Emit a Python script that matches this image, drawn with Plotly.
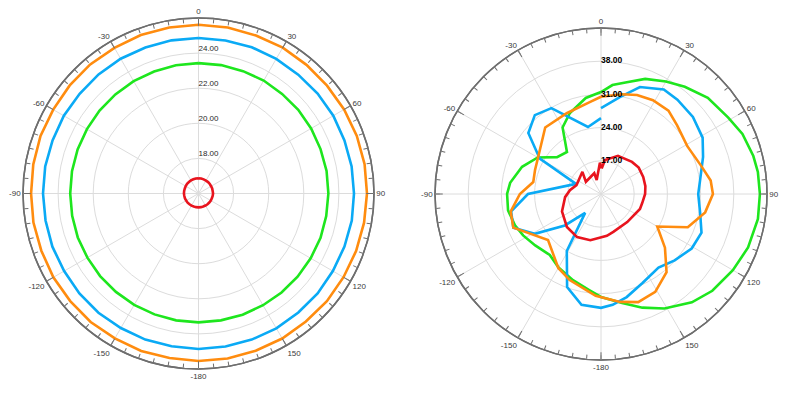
import plotly.graph_objects as go

# ---------------- data ----------------
# Left chart (radial range 16..26), sampled every 10 degrees
left_theta = [0, 10, 20, 30, 40, 50, 60, 70, 80, 90, 100, 110, 120, 130, 140, 150, 160, 170, 180,
              190, 200, 210, 220, 230, 240, 250, 260, 270, 280, 290, 300, 310, 320, 330, 340, 350, 360]
left_orange = [25.62, 25.60, 25.58, 25.60, 25.57, 25.56, 25.58, 25.60, 25.61, 25.60, 25.58, 25.56, 25.54,
               25.55, 25.52, 25.54, 25.53, 25.55, 25.54, 25.52, 25.55, 25.53, 25.56, 25.54, 25.55, 25.53,
               25.55, 25.54, 25.56, 25.58, 25.56, 25.58, 25.60, 25.58, 25.61, 25.60, 25.62]
left_blue = [24.86, 24.85, 24.87, 24.86, 24.84, 24.86, 24.87, 24.85, 24.86, 24.86, 24.87, 24.85, 24.84,
             24.86, 24.85, 24.87, 24.86, 24.85, 24.86, 24.84, 24.86, 24.85, 24.87, 24.86, 24.84, 24.86,
             24.85, 24.86, 24.87, 24.85, 24.86, 24.84, 24.86, 24.87, 24.85, 24.86, 24.86]
left_green = [23.43, 23.43, 23.42, 23.43, 23.41, 23.42, 23.41, 23.40, 23.41, 23.40, 23.39, 23.40, 23.38,
              23.37, 23.36, 23.35, 23.35, 23.34, 23.34, 23.34, 23.33, 23.33, 23.32, 23.32, 23.31, 23.32,
              23.31, 23.31, 23.32, 23.33, 23.34, 23.36, 23.37, 23.39, 23.40, 23.42, 23.43]
left_red = [16.87, 16.87, 16.86, 16.85, 16.85, 16.84, 16.83, 16.83, 16.82, 16.83, 16.82, 16.81, 16.81,
            16.80, 16.80, 16.79, 16.79, 16.79, 16.79, 16.79, 16.79, 16.80, 16.80, 16.81, 16.81, 16.82,
            16.82, 16.83, 16.83, 16.83, 16.84, 16.85, 16.85, 16.86, 16.86, 16.87, 16.87]
left_ring_vals = [18, 20, 22, 24]
left_ring_text = ["18.00", "20.00", "22.00", "24.00"]

# Right chart (radial range 10..45)
green_theta = [0, 6, 13, 21, 30, 38, 48, 59, 67, 76, 82, 90, 99, 110, 120, 131, 140, 151, 160, 169, 180,
               187, 198, 210, 220, 232, 242, 250, 260, 270, 277, 289, 300, 310, 321, 330, 339, 351, 360]
green_r = [31.5, 33.1, 34.2, 36.0, 37.4, 38.7, 40.3, 41.3, 42.4, 43.1, 43.4, 43.5, 43.5, 43.0, 42.1, 41.1,
           39.8, 37.6, 35.5, 33.4, 31.7, 30.4, 29.1, 27.9, 26.8, 27.6, 28.6, 29.3, 29.9, 29.8, 29.3, 27.6,
           25.4, 22.1, 21.4, 26.2, 28.3, 30.5, 31.5]

blue_theta = [0, 11, 20, 31, 39, 50, 61, 70, 82, 90, 101, 111, 121, 132, 142, 155, 166, 174, 180, 190,
              200, 211, 220, 229, 239, 249, 259, 270, 292, 300, 310, 320, 330, 349, 360]
blue_r = [28.1, 30.8, 34.0, 35.7, 35.6, 35.3, 34.5, 32.9, 31.1, 30.5, 31.3, 32.7, 32.3, 30.9, 29.7, 30.7,
          32.4, 33.5, 34.0, 33.7, 30.9, 24.0, 15.2, 20.1, 26.3, 29.8, 29.3, 25.4, 15.7, 24.9, 30.0, 31.7,
          30.9, 24.4, 26.0]

orange_theta = [0, 12, 20, 29, 39, 48, 61, 74, 83, 90, 100, 111, 120, 130, 140, 151, 161, 170, 183, 200,
                210, 229, 249, 259, 270, 280, 290, 302, 320, 337, 353, 360]
orange_r = [30.5, 31.5, 32.2, 32.6, 32.6, 31.6, 30.8, 31.9, 33.3, 33.6, 32.3, 29.6, 23.7, 27.6, 31.5, 33.6,
            34.1, 33.1, 31.5, 29.3, 28.0, 24.8, 29.8, 29.4, 27.1, 24.5, 24.8, 25.5, 28.3, 28.5, 29.5, 30.5]

red_theta = [1.5, 6.7, 24, 44, 55, 68, 80, 90, 102, 111, 137, 162, 172, 193, 209, 226, 246, 265, 277, 290,
             320, 309, 342, 343, 358, 361.5]
red_r = [15.4, 17.2, 18.8, 19.4, 19.7, 19.6, 19.5, 19.3, 18.9, 18.8, 18.1, 18.4, 18.9, 20.0, 20.4, 20.0,
         19.0, 17.6, 16.6, 15.5, 16.1, 14.1, 14.6, 13.1, 16.6, 15.4]

right_ring_vals = [17, 24, 31, 38]
right_ring_text = ["17.00", "24.00", "31.00", "38.00"]

ang_ticks = [0, 30, 60, 90, 120, 150, 180, 210, 240, 270, 300, 330]
ang_labels = ["0", "30", "60", "90", "120", "150", "-180", "-150", "-120", "-90", "-60", "-30"]

# ---------------- style ----------------
C_ORANGE = "#FF8C0F"
C_BLUE = "#0AAAF5"
C_GREEN = "#1EE61E"
C_RED = "#E8141E"
LW = 2.6
FONT = "Liberation Sans, Arial, sans-serif"
GRID = "#DCDCDC"
AXIS = "#6E6E6E"

W, H = 791, 394
OFF = 8  # page body margin offset
# left circle: page center (198.5,193.5) r 175.5 ; right circle: page center (601,194) r 166
def dom(cx, cy, r):
    cx -= OFF
    cy -= OFF
    return dict(x=[(cx - r) / W, (cx + r) / W], y=[(H - cy - r) / H, (H - cy + r) / H])

left_dom = dom(198.5, 193.5, 175.5)
right_dom = dom(601, 194, 166)

fig = go.Figure()

def dummy(sp, rmin):
    fig.add_trace(go.Scatterpolar(r=[rmin], theta=[0], mode="markers", marker=dict(opacity=0),
                                  hoverinfo="skip", subplot=sp))

def line(sp, th, rr, col):
    fig.add_trace(go.Scatterpolar(r=rr, theta=th, mode="lines", line=dict(color=col, width=LW),
                                  subplot=sp, hoverinfo="skip"))

# left
dummy("polar", 16)
line("polar2", left_theta, left_green, C_GREEN)
line("polar2", left_theta, left_blue, C_BLUE)
line("polar2", left_theta, left_orange, C_ORANGE)
line("polar2", left_theta, left_red, C_RED)
fig.add_trace(go.Scatterpolar(r=left_ring_vals, theta=[0] * len(left_ring_vals), mode="text",
                              text=left_ring_text, textposition="top right",
                              textfont=dict(size=8, color="#2A2A2A", family=FONT),
                              subplot="polar2", hoverinfo="skip"))
# right
dummy("polar3", 10)
line("polar4", green_theta, green_r, C_GREEN)
line("polar4", blue_theta, blue_r, C_BLUE)
line("polar4", orange_theta, orange_r, C_ORANGE)
line("polar4", red_theta, red_r, C_RED)
fig.add_trace(go.Scatterpolar(r=right_ring_vals, theta=[0] * len(right_ring_vals), mode="text",
                              text=right_ring_text, textposition="middle right",
                              textfont=dict(size=8.5, color="#000000", family=FONT, weight="bold"),
                              subplot="polar4", hoverinfo="skip"))

minor_vals = list(range(0, 360, 5))

def minor_polar(d, rng):
    return dict(domain=d, bgcolor="white",
                radialaxis=dict(range=rng, showgrid=False, showline=False, showticklabels=False, ticks=""),
                angularaxis=dict(rotation=90, direction="clockwise", tickmode="array", tickvals=minor_vals,
                                 showticklabels=False, showgrid=False, showline=True, linecolor=AXIS,
                                 linewidth=1.5, ticks="inside", ticklen=4, tickcolor=AXIS, tickwidth=1))

def major_polar(d, rng, rticks):
    return dict(domain=d, bgcolor="rgba(0,0,0,0)",
                radialaxis=dict(range=rng, tickmode="array", tickvals=rticks, showgrid=True, gridcolor=GRID,
                                gridwidth=1, showline=False, showticklabels=False, ticks=""),
                angularaxis=dict(rotation=90, direction="clockwise", tickmode="array", tickvals=ang_ticks,
                                 ticktext=ang_labels, showgrid=True, gridcolor=GRID, gridwidth=1,
                                 showline=True, linecolor=AXIS, linewidth=1.5, ticks="inside", ticklen=7,
                                 tickcolor=AXIS, tickwidth=1,
                                 tickfont=dict(size=8, color="#3A3A3A", family=FONT)))

fig.update_layout(
    width=W, height=H, margin=dict(l=0, r=0, t=0, b=0),
    paper_bgcolor="white", plot_bgcolor="white", showlegend=False,
    polar=minor_polar(left_dom, [16, 26]),
    polar2=major_polar(left_dom, [16, 26], [18, 20, 22, 24]),
    polar3=minor_polar(right_dom, [10, 45]),
    polar4=major_polar(right_dom, [10, 45], [17, 24, 31, 38]),
)

fig.write_html("out.html")
